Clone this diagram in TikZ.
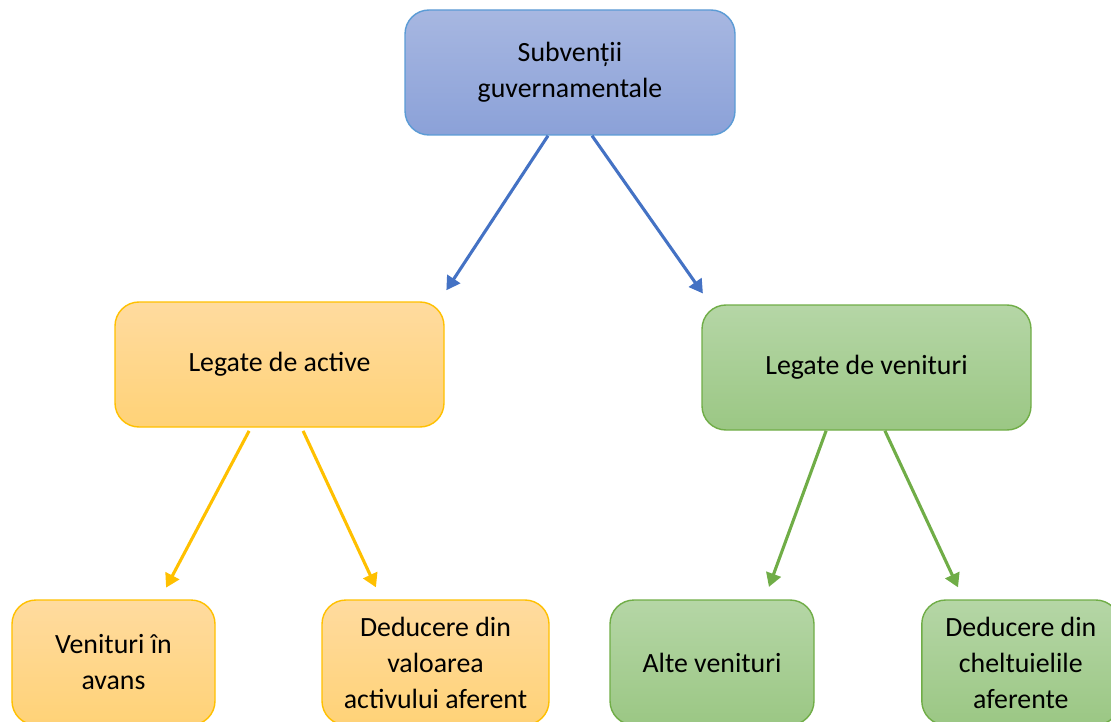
\documentclass[tikz,border=0pt]{standalone}
\usepackage{fontspec}
\setmainfont{Carlito}
\usepackage{tikz}
\usetikzlibrary{arrows.meta}
\usetikzlibrary{calc}

\definecolor{blueline}{HTML}{4472C4}
\definecolor{blueedge}{HTML}{5B9BD5}
\definecolor{bluetop}{HTML}{A7B7E1}
\definecolor{bluebot}{HTML}{8BA1D8}
\definecolor{orangeline}{HTML}{FFC000}
\definecolor{orangetop}{HTML}{FFDB9F}
\definecolor{orangebot}{HTML}{FFD277}
\definecolor{greenline}{HTML}{70AD47}
\definecolor{greentop}{HTML}{B5D6A6}
\definecolor{greenbot}{HTML}{9BC784}

\begin{document}
\begin{tikzpicture}[
        box/.style={rectangle, rounded corners=0.6cm, line width=1pt, align=center,
            minimum height=3.125cm, inner sep=0,
            font=\fontsize{19.8}{25.6}\selectfont},
        bluebox/.style={box, draw=blueedge, top color=bluetop, bottom color=bluebot},
        orangebox/.style={box, draw=orangeline, top color=orangetop, bottom color=orangebot},
        greenbox/.style={box, draw=greenline, top color=greentop, bottom color=greenbot},
        link/.style={line width=2.2pt, shorten >=0.33cm,
            -{Triangle[width=0.38cm,length=0.34cm]}}
    ]
        % cadru (1111 x 722 px)
        \clip (0,0) rectangle (27.775,-18.05);
        \useasboundingbox (0,0) rectangle (27.775,-18.05);

        % nivelul de sus
        \node[bluebox, minimum width=8.25cm] (subv) at (14.25,-1.8125) {Subvenții\\guvernamentale};

        % nivelul din mijloc
        \node[orangebox, minimum width=8.225cm] (active) at (6.9875,-9.1125) {Legate de active};
        \node[greenbox, minimum width=8.225cm] (venit) at (21.6625,-9.1875) {Legate de venituri};

        % nivelul de jos
        \node[orangebox, minimum width=5.075cm] (avans) at (2.8375,-16.5625) {Venituri în\\avans};
        \node[orangebox, minimum width=5.675cm] (valoare) at (10.8875,-16.5625) {Deducere din\\valoarea\\activului aferent};
        \node[greenbox, minimum width=5.1cm] (alte) at (17.8,-16.5625) {Alte venituri};
        \node[greenbox, minimum width=4.95cm] (cheltuieli) at (25.52,-16.5625) {Deducere din\\cheltuielile\\aferente};

        % săgeți
        \draw[link, blueline] ([xshift=-0.55cm]subv.south) -- ([xshift=3.99cm]active.north);
        \draw[link, blueline] ([xshift=0.55cm]subv.south) -- ([xshift=-3.9cm]venit.north);
        \draw[link, orangeline] ([xshift=-0.76cm,yshift=-0.08cm]active.south) -- ([xshift=1.16cm]avans.north);
        \draw[link, orangeline] ([xshift=0.59cm,yshift=-0.08cm]active.south) -- ([xshift=-1.35cm]valoare.north);
        \draw[link, greenline] ([xshift=-1.01cm]venit.south) -- ([xshift=1.31cm]alte.north);
        \draw[link, greenline] ([xshift=0.46cm]venit.south) -- ([xshift=-1.43cm]cheltuieli.north);
    \end{tikzpicture}
\end{document}
